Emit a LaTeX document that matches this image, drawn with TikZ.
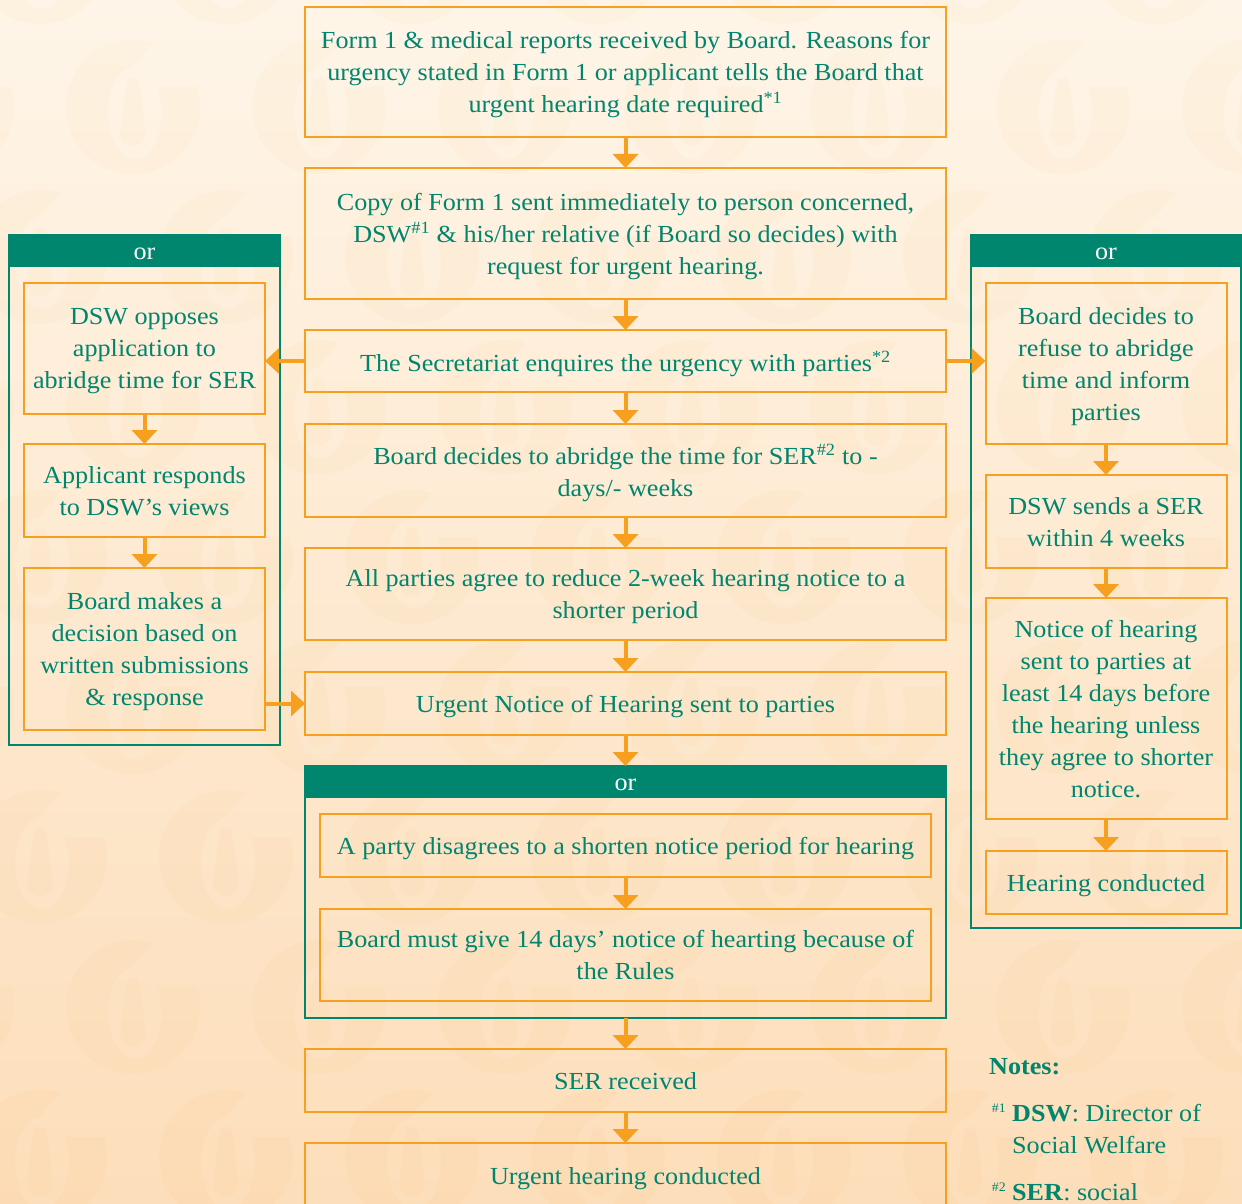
\documentclass[tikz,border=0pt]{standalone}
\usepackage{fontspec}
\setmainfont[FakeStretch=1.067]{Liberation Serif}
\usetikzlibrary{positioning, arrows.meta}

\definecolor{hkgreen}{RGB}{0,133,111}
\definecolor{hkorange}{RGB}{247,160,32}
\definecolor{bgtop}{RGB}{254,245,232}
\definecolor{bgbot}{RGB}{253,222,186}

% faint watermark logo of the background
\tikzset{
    seal/.pic={
        \begin{scope}[yscale=-1, even odd rule]
            \clip (-80,-80) rectangle (80,80)
                (20,64) -- (-3,38) -- (25,20) -- (80,20) -- (80,80) -- (20,80) -- cycle;
            \fill[hkorange, opacity=0.035] (0,0) circle[radius=67]
                (2,-6) ellipse[x radius=27, y radius=46];
            \fill[hkorange, opacity=0.035] (0,27) to[out=-115, in=90] (-13,-26)
                arc[start angle=180, end angle=360, radius=13] to[out=90, in=-65] (0,27);
        \end{scope}
    }
}

\begin{document}
\begin{tikzpicture}[x=1pt, y=-1pt, >={Triangle[width=25pt,length=14pt]}, node distance=31pt,
    box/.style={draw=hkorange, line width=2pt, text=hkgreen, align=center, inner sep=0pt,
        outer sep=0pt, text depth=0pt, font=\fontsize{24.5}{32}\selectfont},
    mid/.style={box, minimum width=641pt},
    side/.style={box, minimum width=241pt},
    frame/.style={draw=hkgreen, line width=2pt, inner sep=0pt, outer sep=0pt},
    orhead/.style={fill=hkgreen, text=white, minimum height=32pt, inner sep=0pt, outer sep=0pt,
        text height=17pt, text depth=0pt, font=\fontsize{24.5}{28}\selectfont},
    flow/.style={->, draw=hkorange, line width=4pt},
    note/.style={text=hkgreen, align=left, inner sep=0pt, font=\fontsize{24.5}{32}\selectfont}]

    % background
    \shade[top color=bgtop, bottom color=bgbot] (0,0) rectangle (1242,1204);
    \useasboundingbox (0,0) rectangle (1242,1204);
    \foreach \y in {107,407,707,1007}
        \foreach \x in {-53,133,...,1249}
            \pic at (\x,\y) {seal};
    \foreach \y in {-43,257,557,857,1157}
        \foreach \x in {40,226,...,1160}
            \pic at (\x,\y) {seal};

    % main column
    \node[mid, minimum height=130pt] (form) at (625.5,72) {Form 1 \& medical reports received by Board. Reasons for\\urgency stated in Form 1 or applicant tells the Board that\\urgent hearing date required\textsuperscript{*1}};
    \node[mid, minimum height=131pt, below=of form] (copy) {Copy of Form 1 sent immediately to person concerned,\\DSW\textsuperscript{\#1} \& his/her relative (if Board so decides) with\\request for urgent hearing.};
    \node[mid, minimum height=62pt, below=of copy] (enq) {The Secretariat enquires the urgency with parties\textsuperscript{*2}};
    \node[mid, minimum height=93pt, below=32pt of enq] (abridge) {Board decides to abridge the time for SER\textsuperscript{\#2} to -\\days/- weeks};
    \node[mid, minimum height=92pt, below=of abridge] (agree) {All parties agree to reduce 2-week hearing notice to a\\shorter period};
    \node[mid, minimum height=63pt, below=32pt of agree] (notice) {Urgent Notice of Hearing sent to parties};

    % or -- bottom group
    \node[frame, minimum width=641pt, minimum height=252pt, below=of notice] (bgrp) {};
    \node[orhead, minimum width=641pt, anchor=north] (bhead) at (bgrp.north) {or};
    \node[mid, minimum width=611pt, minimum height=63pt, below=16pt of bhead] (disagree) {A party disagrees to a shorten notice period for hearing};
    \node[mid, minimum width=611pt, minimum height=92pt, below=32pt of disagree] (must) {Board must give 14 days’ notice of hearting because of\\the Rules};

    \node[mid, minimum height=63pt, below=of bgrp] (serrec) {SER received};
    \node[mid, minimum height=66pt, below=of serrec] (urgent) {Urgent hearing conducted};

    % or -- left group
    \node[frame, minimum width=271pt, minimum height=510pt] (lgrp) at (144.5,490) {};
    \node[orhead, minimum width=271pt, anchor=north] (lhead) at (lgrp.north) {or};
    \node[side, minimum height=131pt, below=16pt of lhead] (oppose) {DSW opposes\\application to\\abridge time for SER};
    \node[side, minimum height=93pt, below=30pt of oppose] (respond) {Applicant responds\\to DSW’s views};
    \node[side, minimum height=162pt, below=of respond] (decide) {Board makes a\\decision based on\\written submissions\\\& response};

    % or -- right group
    \node[frame, minimum width=270pt, minimum height=693pt] (rgrp) at (1106,581.5) {};
    \node[orhead, minimum width=270pt, anchor=north] (rhead) at (rgrp.north) {or};
    \node[side, minimum height=161pt, below=16pt of rhead] (refuse) {Board decides to\\refuse to abridge\\time and inform\\parties};
    \node[side, minimum height=93pt, below=of refuse] (sends) {DSW sends a SER\\within 4 weeks};
    \node[side, minimum height=221pt, below=30pt of sends] (hnotice) {Notice of hearing\\sent to parties at\\least 14 days before\\the hearing unless\\they agree to shorter\\notice.};
    \node[side, minimum height=63pt, below=32pt of hnotice] (held) {Hearing conducted};

    % arrows
    \draw[flow] (form) -- (copy);
    \draw[flow] (copy) -- (enq);
    \draw[flow] (enq) -- (abridge);
    \draw[flow] (abridge) -- (agree);
    \draw[flow] (agree) -- (notice);
    \draw[flow] (notice) -- (bgrp);
    \draw[flow] (disagree) -- (must);
    \draw[flow] (bgrp) -- (serrec);
    \draw[flow] (serrec) -- (urgent);
    \draw[flow] (enq.west) -- (enq.west -| oppose.east);
    \draw[flow] (enq.east) -- (enq.east -| refuse.west);
    \draw[flow] (oppose) -- (respond);
    \draw[flow] (respond) -- (decide);
    \draw[flow] (decide.east |- notice.west) -- (notice.west);
    \draw[flow] (refuse) -- (sends);
    \draw[flow] (sends) -- (hnotice);
    \draw[flow] (hnotice) -- (held);

    % notes
    \node[note, anchor=base west, font=\bfseries\fontsize{24.5}{32}\selectfont] (notes) at (989,1074) {Notes:};
    \node[note, anchor=north west] (dswnote) at (1012,1104) {\textbf{DSW}: Director of\\Social Welfare};
    \node[note, anchor=north east, font=\fontsize{13}{16}\selectfont] (dswmark) at ([xshift=-6pt]dswnote.north west) {\#1};
    \node[note, anchor=north west] (sernote) at (1012,1183) {\textbf{SER}: social};
    \node[note, anchor=north east, font=\fontsize{13}{16}\selectfont] (sermark) at ([xshift=-6pt]sernote.north west) {\#2};
\end{tikzpicture}
\end{document}
